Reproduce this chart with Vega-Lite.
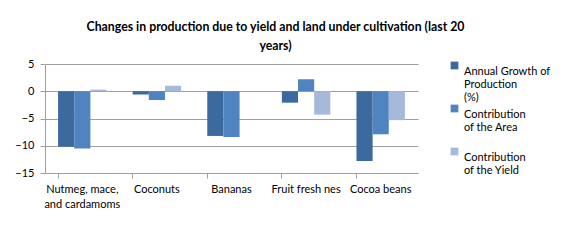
{
  "$schema": "https://vega.github.io/schema/vega-lite/v6.json",
  "width": 373,
  "height": 109,
  "autosize": {"type": "none"},
  "padding": {"left": 45, "top": 64, "right": 157, "bottom": 67},
  "background": "white",
  "title": {
    "text": ["Changes in production due to yield and land under cultivation (last 20", "years)"],
    "font": "Lato",
    "fontSize": 12.3,
    "fontWeight": "bold",
    "color": "#000000",
    "anchor": "middle",
    "dx": 44,
    "offset": 6,
    "lineHeight": 19
  },
  "data": {
    "values": [
      {"crop": "Nutmeg, mace, and cardamoms", "series": "Annual Growth of Production (%)", "value": -10.2},
      {"crop": "Nutmeg, mace, and cardamoms", "series": "Contribution of the Area", "value": -10.5},
      {"crop": "Nutmeg, mace, and cardamoms", "series": "Contribution of the Yield", "value": 0.3},
      {"crop": "Coconuts", "series": "Annual Growth of Production (%)", "value": -0.6},
      {"crop": "Coconuts", "series": "Contribution of the Area", "value": -1.6},
      {"crop": "Coconuts", "series": "Contribution of the Yield", "value": 1.0},
      {"crop": "Bananas", "series": "Annual Growth of Production (%)", "value": -8.2},
      {"crop": "Bananas", "series": "Contribution of the Area", "value": -8.4},
      {"crop": "Bananas", "series": "Contribution of the Yield", "value": 0.0},
      {"crop": "Fruit fresh nes", "series": "Annual Growth of Production (%)", "value": -2.1},
      {"crop": "Fruit fresh nes", "series": "Contribution of the Area", "value": 2.2},
      {"crop": "Fruit fresh nes", "series": "Contribution of the Yield", "value": -4.3},
      {"crop": "Cocoa beans", "series": "Annual Growth of Production (%)", "value": -12.8},
      {"crop": "Cocoa beans", "series": "Contribution of the Area", "value": -7.9},
      {"crop": "Cocoa beans", "series": "Contribution of the Yield", "value": -5.3}
    ]
  },
  "mark": {"type": "bar"},
  "encoding": {
    "x": {
      "field": "crop",
      "type": "nominal",
      "sort": null,
      "scale": {"paddingInner": 0.35, "paddingOuter": 0.175},
      "axis": {
        "title": null,
        "labelAngle": 0,
        "labelExpr": "datum.value == 'Nutmeg, mace, and cardamoms' ? ['Nutmeg, mace,', 'and cardamoms'] : datum.value",
        "labelFont": "Lato",
        "labelFontSize": 11,
        "labelColor": "#000000",
        "labelPadding": 5,
        "labelLineHeight": 15,
        "bandPosition": 0,
        "ticks": true,
        "tickSize": 5,
        "tickColor": "#a0a0a0",
        "domainColor": "#a0a0a0",
        "grid": false
      }
    },
    "xOffset": {"field": "series", "type": "nominal", "sort": null},
    "y": {
      "field": "value",
      "type": "quantitative",
      "scale": {"domain": [-15, 5], "nice": false, "zero": false},
      "axis": {
        "title": null,
        "values": [-15, -10, -5, 0, 5],
        "labelFont": "Lato",
        "labelFontSize": 11,
        "labelColor": "#000000",
        "labelPadding": 6,
        "tickSize": 5,
        "tickColor": "#a0a0a0",
        "domainColor": "#a0a0a0",
        "gridColor": "#a0a0a0",
        "grid": true
      }
    },
    "color": {
      "field": "series",
      "type": "nominal",
      "sort": null,
      "scale": {
        "domain": ["Annual Growth of Production (%)", "Contribution of the Area", "Contribution of the Yield"],
        "range": ["#3D6A9E", "#4F84C1", "#A7B9DB"]
      },
      "legend": {
        "title": null,
        "orient": "none",
        "legendX": 404,
        "legendY": -4,
        "symbolType": "square",
        "symbolSize": 60,
        "symbolStrokeWidth": 0,
        "labelFont": "Lato",
        "labelFontSize": 11,
        "labelColor": "#000000",
        "labelLineHeight": 15,
        "labelBaseline": "top",
        "labelLimit": 200,
        "gridAlign": "all",
        "rowPadding": -4,
        "labelExpr": "datum.value == 'Annual Growth of Production (%)' ? ['Annual Growth of', 'Production', '(%)'] : datum.value == 'Contribution of the Area' ? ['Contribution', 'of the Area'] : ['Contribution', 'of the Yield']"
      }
    }
  },
  "config": {
    "view": {"stroke": null},
    "axis": {"domainWidth": 1, "gridWidth": 1}
  }
}
